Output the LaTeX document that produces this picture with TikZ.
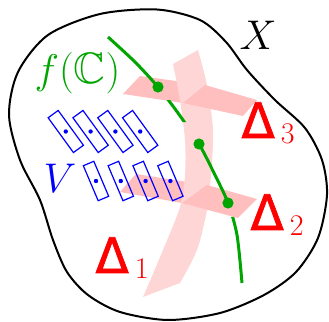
\documentclass[tikz,border=0pt]{standalone}
\usepackage{amsmath,amssymb}
\usepackage{fontspec}
\newfontfamily\deltafont{DejaVu Sans}[FakeBold=1.3]
\usetikzlibrary{calc}
\definecolor{curvegreen}{RGB}{0,165,0}
\definecolor{planepink}{RGB}{255,191,191}
\definecolor{bandpink}{RGB}{255,214,214}
\newcommand{\sheetlabel}[1]{{\deltafont\fontsize{24.5}{28}\selectfont Δ}\kern3pt\raisebox{-3pt}{\fontsize{15}{18}\selectfont #1}}

\begin{document}
\begin{tikzpicture}[x=0.5pt,y=-0.5pt,
    sheet/.style={fill=planepink},
    band/.style={fill=bandpink},
    cell/.style={rectangle, draw=blue, line width=0.6pt, inner sep=0pt},
    pierce/.style={circle, fill=curvegreen, inner sep=0pt, minimum size=5.6pt},
    bigtext/.style={font=\fontsize{22}{26}\selectfont, inner sep=0pt},
    dlabel/.style={red, inner sep=0pt, anchor=base west}
]
    \useasboundingbox (0,0) rectangle (329,322);

    % the space X
    \draw[line width=1pt] plot[smooth cycle] coordinates {(100,14) (157,9.5) (200,20) (226,42)
        (247,70) (275,100) (305,128) (322,160) (327,195) (318,238) (296,272) (264,295)
        (220,313) (168,320) (120,312) (88,295) (67,272) (53,240) (40,200) (20,160)
        (9,115) (18,72) (48,35)};

    % back halves of Delta_3 and Delta_2
    \fill[sheet] (123,94) -- (140,76) -- (205,85) -- (183,103) -- cycle;
    \fill[sheet] (120,192) -- (136,174) -- (207,185) -- (182,203) -- cycle;

    % Delta_1
    \fill[band] plot[smooth] coordinates {(198,50) (207,85) (213,130) (211,175) (207,210) (197,250) (180,283)}
        -- plot[smooth] coordinates {(143,297) (163,250) (180,207) (185,175) (185,140) (180,100) (173,64)}
        -- cycle;

    % front halves
    \fill[sheet] (205,85) -- (257,100) -- (243,116) -- (183,103) -- cycle;
    \fill[sheet] (207,185) -- (257,199) -- (238,218) -- (182,203) -- cycle;

    % the cells of V
    \foreach \i in {0,...,3} {
        \node[cell, minimum width=21.5pt, minimum height=6.2pt, rotate=-54] (a\i) at ({65.8+24.8*\i},131.5) {};
        \fill[blue] (a\i.center) circle (1.1pt);
        \node[cell, minimum width=19pt, minimum height=5.7pt, rotate=-67] (b\i) at ({96+24.8*\i},181) {};
        \fill[blue] (b\i.center) circle (1.1pt);
    }

    % f(C)
    \coordinate (p1) at (158,87);
    \coordinate (p2) at (199,144);
    \coordinate (p3) at (228,203);
    \begin{scope}
        \clip (0,0) rectangle (329,87) (0,100) rectangle (329,122)
              (0,144) rectangle (329,203) (0,217) rectangle (329,322);
        \draw[curvegreen, line width=1.5pt] plot[smooth] coordinates {(108,37) (135,62) (p1)
            (178,113) (p2) (215,175) (p3) (237,235) (242,283)};
    \end{scope}
    \node[pierce] (d1) at (p1) {};
    \node[pierce] (d2) at (p2) {};
    \node[pierce] (d3) at (p3) {};

    % labels
    \node[bigtext] (xlab) at (258,35) {$X$};
    \node[bigtext, curvegreen] (flab) at (77.5,73.5) {$f(\mathbb{C})$};
    \node[bigtext, blue] (vlab) at (60,178) {$V$};
    \node[dlabel] (l3) at (241,138) {\sheetlabel{3}};
    \node[dlabel] (l2) at (250,230) {\sheetlabel{2}};
    \node[dlabel] (l1) at (95,273) {\sheetlabel{1}};
\end{tikzpicture}
\end{document}
